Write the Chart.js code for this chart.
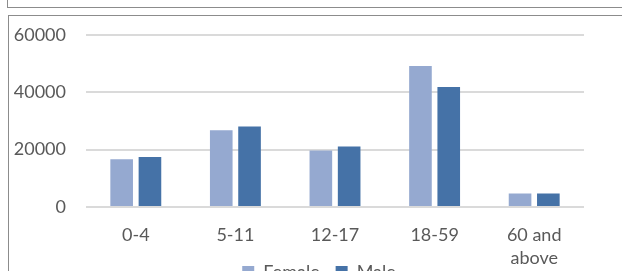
<!DOCTYPE html>
<html>
<head>
<meta charset="utf-8">
<script src="https://cdn.jsdelivr.net/npm/chart.js@4/dist/chart.umd.min.js"></script>
<style>
  html, body { margin: 0; padding: 0; background: #fff; width: 622px; height: 271px; overflow: hidden; position: relative; }
  #box1 { position: absolute; left: 7px; top: -20px; width: 700px; height: 28px; border: 1px solid #8c8c8c; box-sizing: border-box; }
  #box2 { position: absolute; left: 8px; top: 15px; width: 700px; height: 400px; border: 1px solid #8c8c8c; box-sizing: border-box; }
  #wrap { position: absolute; left: 9px; top: 3px; width: 575px; height: 312px; }
</style>
</head>
<body>
<div id="box1"></div>
<div id="box2"></div>
<div id="wrap"><canvas id="c" width="575" height="312"></canvas></div>
<script>
const categories = ['0-4', '5-11', '12-17', '18-59', ['60 and', 'above']];
const female = [16600, 26700, 19700, 49100, 4700];
const male = [17400, 28000, 21100, 41800, 4700];
const yTicks = [0, 20000, 40000, 60000];

const textColor = '#595959';
const font = { family: 'Lato', size: 18, lineHeight: 1.3 };

const legendMover = {
  id: 'legendMover',
  afterLayout(chart) {
    const lg = chart.legend;
    if (!lg) return;
    const h = lg.height;
    lg.top = 244;
    lg.bottom = lg.top + h;
    lg.left = 45;
    lg.right = 575;
    lg.width = lg.right - lg.left;
  }
};

new Chart(document.getElementById('c'), {
  type: 'bar',
  data: {
    labels: categories,
    datasets: [
      { label: 'Female', data: female, backgroundColor: '#95a9d0', categoryPercentage: 0.568, barPercentage: 0.8 },
      { label: 'Male', data: male, backgroundColor: '#4572a7', categoryPercentage: 0.568, barPercentage: 0.8 }
    ]
  },
  plugins: [legendMover],
  options: {
    responsive: false,
    animation: false,
    devicePixelRatio: 1,
    layout: { padding: { top: 0, left: 0, right: 0, bottom: 0 } },
    plugins: {
      tooltip: { enabled: false },
      legend: {
        position: 'bottom',
        labels: { color: textColor, font: font, boxWidth: 12, boxHeight: 12, padding: 16 }
      }
    },
    scales: {
      x: {
        grid: { display: false, drawTicks: false },
        border: { display: false },
        ticks: { color: textColor, font: font, padding: 16, maxRotation: 0, autoSkip: false },
        afterFit: (s) => { s.height = 64; }
      },
      y: {
        min: 0,
        max: 60000,
        grid: { color: '#dadada', lineWidth: 2, drawTicks: false },
        border: { display: false },
        ticks: { color: textColor, font: font, padding: 20, callback: (v) => String(v) },
        afterBuildTicks: (s) => { s.ticks = yTicks.map(v => ({ value: v })); },
        afterFit: (s) => { s.width = 77; }
      }
    }
  }
});
</script>
</body>
</html>
